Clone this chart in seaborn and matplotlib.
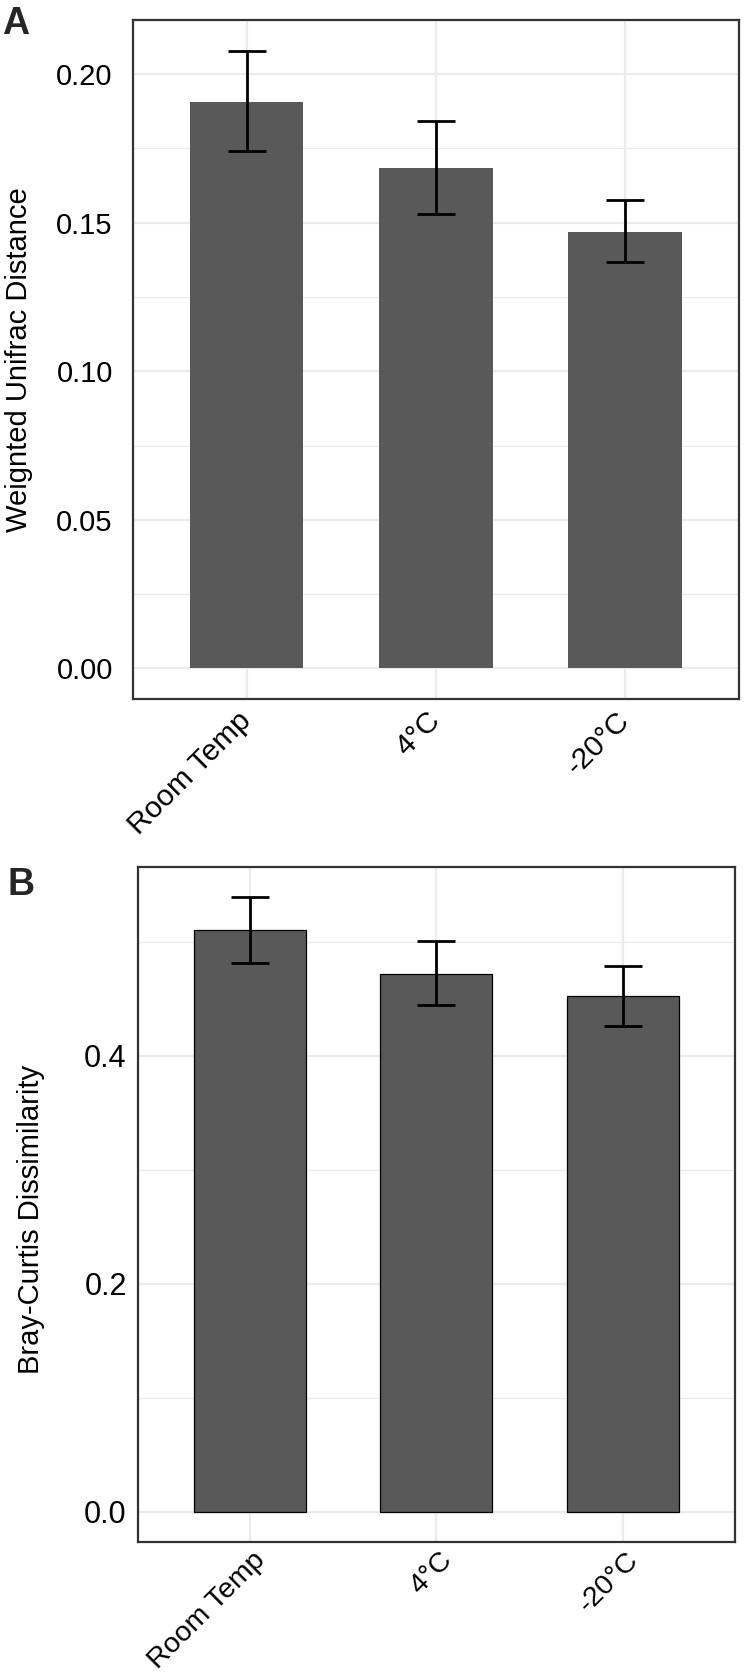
import numpy as np
import pandas as pd
import matplotlib
matplotlib.use("Agg")
import matplotlib.pyplot as plt
import matplotlib.transforms as mtrans
import seaborn as sns
from matplotlib.ticker import FixedLocator

# ---------------- data ----------------
categories = ["Room Temp", "4°C", "-20°C"]

unifrac_mean = [0.1907, 0.1683, 0.1468]
unifrac_low = [0.1740, 0.1530, 0.1367]
unifrac_high = [0.2077, 0.1841, 0.1575]

bray_mean = [0.5104, 0.4720, 0.4523]
bray_low = [0.4816, 0.4446, 0.4259]
bray_high = [0.5390, 0.5003, 0.4787]

a_ticks = [0.00, 0.05, 0.10, 0.15, 0.20]
a_ticklabels = ["0.00", "0.05", "0.10", "0.15", "0.20"]
a_minor = [0.025, 0.075, 0.125, 0.175]
b_ticks = [0.0, 0.2, 0.4]
b_ticklabels = ["0.0", "0.2", "0.4"]
b_minor = [0.1, 0.3, 0.5]

# ---------------- style ----------------
sns.set_style("white")
plt.rcParams["font.family"] = ["Liberation Sans", "DejaVu Sans"]

W, H = 745, 1678
fig = plt.figure(figsize=(W / 100, H / 100), dpi=100)

BAR = "#595959"
FRAME = "#333333"
GRID = "#EBEBEB"


def panel(rect, means, lows, highs, ylabel, ticks, ticklabels, minor,
          edge, ypad, ytsize, label_x, label_y, xtsize, xlab_dx, xlab_dy):
    ax = fig.add_axes(rect)
    df = pd.DataFrame({"cat": categories, "val": means})
    sns.barplot(data=df, x="cat", y="val", color=BAR, saturation=1,
                width=0.6, ax=ax, edgecolor=edge,
                linewidth=0.9 if edge != "none" else 0, zorder=3)
    pos = np.arange(len(categories))
    m = np.array(means)
    yerr = np.vstack([m - np.array(lows), np.array(highs) - m])
    ax.errorbar(pos, m, yerr=yerr, fmt="none", ecolor="black",
                elinewidth=2.0, capsize=13.5, capthick=2.0, zorder=4)
    top = max(highs)
    ax.set_ylim(-0.05 * top, 1.05 * top)
    ax.set_xlim(-0.6, len(categories) - 1 + 0.6)
    ax.set_yticks(ticks)
    ax.set_yticklabels(ticklabels)
    ax.yaxis.set_minor_locator(FixedLocator(minor))
    ax.grid(True, which="major", color=GRID, linewidth=1.6, zorder=0)
    ax.grid(True, which="minor", axis="y", color=GRID, linewidth=0.9, zorder=0)
    ax.set_axisbelow(True)
    for s in ax.spines.values():
        s.set_color(FRAME)
        s.set_linewidth(1.6)
        s.set_visible(True)
    ax.tick_params(axis="both", which="major", length=5.5, width=1.5,
                   color=FRAME, labelcolor="black")
    ax.tick_params(axis="y", which="major", labelsize=ytsize, pad=ypad)
    ax.tick_params(axis="y", which="minor", length=0)
    ax.tick_params(axis="x", which="major", labelsize=xtsize, pad=4)
    ax.set_xticks(pos)
    ax.set_xticklabels(categories, rotation=45, ha="right", va="center",
                       rotation_mode="anchor")
    off = mtrans.ScaledTranslation(xlab_dx / 100, -xlab_dy / 100,
                                   fig.dpi_scale_trans)
    for t in ax.get_xticklabels():
        t.set_transform(t.get_transform() + off)
    ax.set_xlabel("")
    ax.set_ylabel(ylabel, fontsize=21, color="black")
    ax.yaxis.set_label_coords(label_x, label_y)
    return ax


# panel A
axA = panel([133 / W, 1 - 699.3 / H, (738.7 - 133) / W, (699.3 - 20.2) / H],
            unifrac_mean, unifrac_low, unifrac_high,
            "Weignted Unifrac Distance", a_ticks, a_ticklabels, a_minor,
            "none", 9, 21, -0.165, 0.5, 21.5, 0, 4)

# panel B
axB = panel([137.8 / W, 1 - 1542.3 / H, (735 - 137.8) / W, (1542.3 - 866.5) / H],
            bray_mean, bray_low, bray_high,
            "Bray-Curtis Dissimilarity", b_ticks, b_ticklabels, b_minor,
            "black", 2.5, 22, -0.155, 0.478, 20.5, 12, 1)

fig.text(2 / W, 1 - 5.5 / H, "A", fontsize=27, fontweight="bold",
         ha="left", va="top")
fig.text(7 / W, 1 - 867 / H, "B", fontsize=27, fontweight="bold",
         ha="left", va="top")

fig.savefig("out.png", dpi=100)
